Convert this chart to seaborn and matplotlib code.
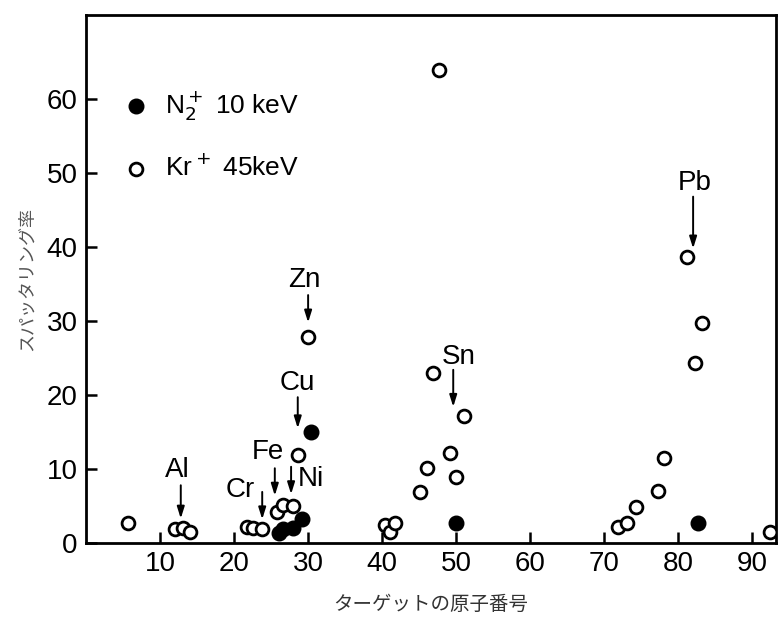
import numpy as np
import pandas as pd
import matplotlib
matplotlib.use('Agg')
import matplotlib.pyplot as plt
import seaborn as sns

# Kr+ 45 keV (open circles): atomic number vs sputtering yield
kr_z = [5.7, 12.0, 13.1, 14.1, 21.8, 22.6, 23.8, 25.8, 26.6, 28.0, 28.6, 30.0,
        40.4, 41.1, 41.8, 45.1, 46.1, 46.8, 47.7, 49.1, 50.0, 51.1,
        71.9, 73.1, 74.3, 77.2, 78.0, 81.2, 82.3, 83.2, 92.4]
kr_yield = [2.7, 1.9, 2.0, 1.5, 2.2, 2.0, 1.9, 4.2, 5.1, 5.0, 11.9, 27.8,
            2.4, 1.5, 2.7, 6.9, 10.1, 23.0, 63.9, 12.2, 8.9, 17.2,
            2.2, 2.7, 4.9, 7.0, 11.5, 38.6, 24.3, 29.7, 1.5]

# N2+ 10 keV (filled circles)
n2_z = [26.0, 26.6, 28.0, 29.2, 30.4, 50.0, 82.6]
n2_yield = [1.3, 1.9, 2.0, 3.3, 15.0, 2.7, 2.7]

# element labels: name, text x, text y, arrow x, arrow top, arrow tip
elements = ['Al', 'Cr', 'Fe', 'Ni', 'Cu', 'Zn', 'Sn', 'Pb']
label_x = [12.3, 20.8, 24.6, 30.4, 28.6, 29.5, 50.4, 82.2]
label_y = [9.9, 7.1, 12.3, 8.6, 21.6, 35.5, 25.2, 48.7]
arrow_x = [12.8, 23.8, 25.5, 27.7, 28.6, 30.0, 49.6, 82.0]
arrow_top = [7.8, 6.9, 10.1, 10.3, 19.7, 33.5, 23.4, 46.8]
arrow_tip = [3.3, 3.2, 6.4, 6.6, 15.5, 29.8, 18.4, 39.8]

df_kr = pd.DataFrame({'z': kr_z, 'y': kr_yield})
df_n2 = pd.DataFrame({'z': n2_z, 'y': n2_yield})

sns.set_style('ticks')
plt.rcParams['font.family'] = ['Liberation Sans', 'DejaVu Sans']
plt.rcParams['text.color'] = 'black'
plt.rcParams['axes.labelcolor'] = 'black'
plt.rcParams['xtick.color'] = 'black'
plt.rcParams['ytick.color'] = 'black'
plt.rcParams['axes.edgecolor'] = 'black'

fig, ax = plt.subplots(figsize=(7.79, 6.19), dpi=100)
fig.subplots_adjust(left=0.1104, right=0.9962, bottom=0.1228, top=0.9758)

sns.scatterplot(data=df_n2, x='z', y='y', ax=ax, s=110, color='black',
                edgecolor='black', linewidth=1.0, label=r'N$_2^+$ 10 keV', zorder=3)
sns.scatterplot(data=df_kr, x='z', y='y', ax=ax, s=85, facecolor='white',
                edgecolor='black', linewidth=2.0, label='Kr$^+$ 45keV', zorder=3)

for name, tx, ty, ax_x, a0, a1 in zip(elements, label_x, label_y, arrow_x, arrow_top, arrow_tip):
    ax.text(tx, ty, name, fontsize=20, ha='center', va='center')
    ax.annotate('', xy=(ax_x, a1), xytext=(ax_x, a0),
                arrowprops=dict(arrowstyle='-|>,head_width=0.22,head_length=0.7',
                                color='black', lw=1.4, shrinkA=0, shrinkB=0))

ax.set_xlim(0, 93.2)
ax.set_ylim(0, 71.35)
ax.set_xticks(range(10, 100, 10))
ax.set_yticks(range(0, 70, 10))
ax.tick_params(direction='in', length=8, width=1.8, labelsize=20, pad=6)
for sp in ax.spines.values():
    sp.set_linewidth(2.0)
    sp.set_visible(True)

ax.set_xlabel('ターゲットの原子番号', fontsize=14, color='#333333',
              family=['Noto Sans CJK JP'], labelpad=12)
ax.set_ylabel('スパッタリング率', fontsize=13, color='#555555',
              family=['Noto Sans CJK JP'], labelpad=8)

leg = ax.legend(loc='upper left', bbox_to_anchor=(0.0, 0.905), frameon=False,
                fontsize=19, labelspacing=1.2, handletextpad=0.1, markerscale=1.0)

plt.savefig('out.png', dpi=100)
